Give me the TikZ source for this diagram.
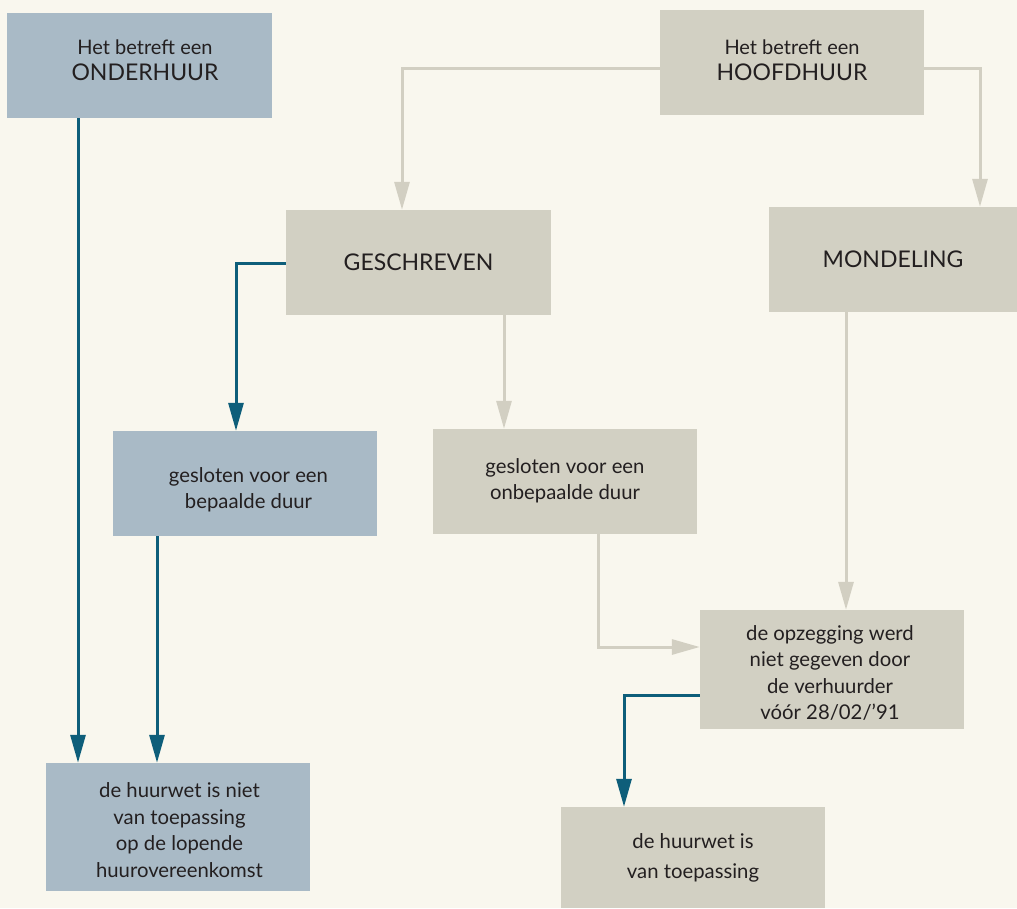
\documentclass[tikz,border=0pt]{standalone}
\usepackage{fontspec}
\setmainfont{Lato}
\usetikzlibrary{arrows.meta,calc}
\definecolor{bgc}{HTML}{F9F7EE}
\definecolor{bluebox}{HTML}{A9BAC6}
\definecolor{beigebox}{HTML}{D2D0C3}
\definecolor{darkblue}{HTML}{0E5E7A}
\definecolor{beigeline}{HTML}{D2CFC2}
\definecolor{txt}{HTML}{231F20}
\begin{document}
\begin{tikzpicture}[x=1pt,y=-1pt,
  box/.style={rectangle,inner sep=0pt,align=center,text=txt,minimum width=264pt,minimum height=105pt},
  bbox/.style={box,fill=bluebox},
  gbox/.style={box,fill=beigebox},
  lbl/.style={text=txt,align=center,inner sep=0pt,font=\fontsize{20.3}{26.5}\selectfont},
  bigt/.style={font=\fontsize{23}{26}\selectfont},
  barrow/.style={draw=darkblue,line width=3pt,-{Triangle[width=15pt,length=28pt]}},
  garrow/.style={draw=beigeline,line width=3pt,-{Triangle[width=15pt,length=28pt]}}]
\useasboundingbox (0,0) rectangle (1017,908);
\fill[bgc] (0,0) rectangle (1017,908);
% boxes
\node[bbox,minimum width=265pt] (onder) at (139.5,65.5) {};
\node[lbl] at (145,60) {{\fontsize{20}{25}\selectfont Het betreft een}\\{\fontsize{23}{25}\selectfont ONDERHUUR}};
\node[gbox] (hoofd) at (792,62.5) {};
\node[lbl] at (792,60) {{\fontsize{20}{25}\selectfont Het betreft een}\\{\fontsize{23}{25}\selectfont HOOFDHUUR}};
\node[gbox,minimum width=265pt,bigt] (gesch) at (418.5,262.5) {GESCHREVEN};
\node[gbox,minimum width=248pt,bigt] (mond) at (893,259.5) {MONDELING};
\node[bbox] (bep) at (245,483.5) {};
\node[lbl,font=\fontsize{20.3}{26}\selectfont] at (248.5,490) {gesloten voor een\\bepaalde duur};
\node[gbox] (onbep) at (565,481.5) {};
\node[lbl,font=\fontsize{20.3}{26}\selectfont] at (565,481) {gesloten voor een\\onbepaalde duur};
\node[gbox,minimum height=119pt] (opz) at (832,669.5) {};
\node[lbl] at (830,673) {de opzegging werd\\niet gegeven door\\de verhuurder\\vóór 28/02/’91};
\node[bbox,minimum height=128pt] (niet) at (178,827) {};
\node[lbl] at (179.5,830) {de huurwet is niet\\van toepassing\\op de lopende\\huurovereenkomst};
\node[gbox,minimum height=101pt] (is) at (693,857.5) {};
\node[lbl,font=\fontsize{20.3}{30}\selectfont] at (693,858) {de huurwet is\\van toepassing};
% connectors
\draw[barrow] (onder.south -| 78,0) -- (niet.north -| 78,0);
\draw[barrow] (bep.south -| 157,0) -- (niet.north -| 157,0);
\draw[barrow] (gesch.west |- 0,263) -| (bep.north -| 236,0);
\draw[garrow] (hoofd.west |- 0,68) -| (gesch.north -| 402,0);
\draw[garrow] (hoofd.east |- 0,68) -| (mond.north -| 980,0);
\draw[garrow] (gesch.south -| 504,0) -- (onbep.north -| 504,0);
\draw[garrow] (onbep.south -| 598,0) |- (opz.west |- 0,647);
\draw[garrow] (mond.south -| 846,0) -- (opz.north -| 846,0);
\draw[barrow] (opz.west |- 0,695) -| (is.north -| 624,0);
\end{tikzpicture}
\end{document}
